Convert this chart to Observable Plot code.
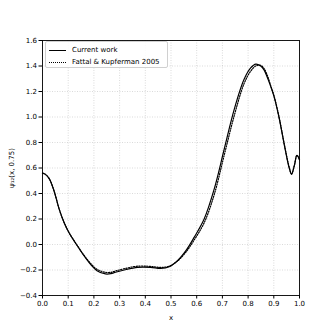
<!DOCTYPE html>
<html>
<head>
<meta charset="utf-8">
<script src="https://cdn.jsdelivr.net/npm/d3@7"></script>
<script src="https://cdn.jsdelivr.net/npm/@observablehq/plot@0.6"></script>
<style>
  html, body { margin: 0; padding: 0; background: #fff; }
  #wrap { position: relative; width: 332px; height: 332px; font-family: "DejaVu Sans", sans-serif; }
  #legend { position: absolute; left: 45px; top: 41px; width: 123px; height: 27px; box-sizing: border-box;
            border: 1px solid #d0d0d0; border-radius: 2px; background: rgba(255,255,255,0.85); font-size: 7px; color: #000; }
  .row { position: absolute; left: 0; height: 10px; display: flex; align-items: center; }
  .swatch { width: 17px; margin-left: 3px; margin-right: 6px; height: 0; }
</style>
</head>
<body>
<div id="wrap">
  <div id="chart"></div>
  <div id="legend"></div>
</div>
<script>
const xs = [0, 0.01, 0.026, 0.045, 0.065, 0.084, 0.104, 0.136, 0.162, 0.188, 0.212, 0.245, 0.266, 0.284, 0.318, 0.37, 0.421, 0.46, 0.493, 0.525, 0.558, 0.59, 0.629, 0.668, 0.707, 0.746, 0.784, 0.81, 0.83, 0.849, 0.862, 0.875, 0.888, 0.901, 0.921, 0.94, 0.96, 0.969, 0.98, 0.99, 1.0];
const currentWork = [0.56, 0.552, 0.517, 0.42, 0.277, 0.173, 0.09, -0.012, -0.09, -0.158, -0.205, -0.231, -0.229, -0.218, -0.2, -0.179, -0.179, -0.187, -0.174, -0.127, -0.048, 0.056, 0.2, 0.434, 0.747, 1.06, 1.294, 1.385, 1.415, 1.40, 1.37, 1.31, 1.24, 1.16, 0.99, 0.79, 0.60, 0.55, 0.62, 0.70, 0.665];
const fattal = [0.56, 0.552, 0.517, 0.42, 0.276, 0.172, 0.09, -0.01, -0.086, -0.15, -0.195, -0.218, -0.218, -0.208, -0.19, -0.17, -0.172, -0.18, -0.17, -0.13, -0.06, 0.035, 0.17, 0.39, 0.70, 1.01, 1.26, 1.36, 1.40, 1.405, 1.38, 1.325, 1.245, 1.165, 0.995, 0.795, 0.605, 0.555, 0.62, 0.70, 0.665];
const seriesNames = ["Current work", "Fattal & Kupferman 2005"];
const xTicks = [0, 0.1, 0.2, 0.3, 0.4, 0.5, 0.6, 0.7, 0.8, 0.9, 1.0];
const yTicks = [-0.4, -0.2, 0, 0.2, 0.4, 0.6, 0.8, 1.0, 1.2, 1.4, 1.6];

const dashes = [null, "1.2,1.4"];
const data = [];
xs.forEach((x, i) => {
  data.push({x, y: currentWork[i], s: seriesNames[0]});
  data.push({x, y: fattal[i], s: seriesNames[1]});
});

const plot = Plot.plot({
  width: 332, height: 332,
  marginLeft: 42, marginRight: 33, marginTop: 40, marginBottom: 37,
  style: {fontFamily: "DejaVu Sans, sans-serif", fontSize: "7px", color: "#000", background: "#fff"},
  x: {domain: [0, 1]},
  y: {domain: [-0.4, 1.6]},
  marks: [
    Plot.gridX(xTicks, {stroke: "#b0b0b0", strokeOpacity: 0.8, strokeDasharray: "1,1.5", strokeWidth: 0.6}),
    Plot.gridY(yTicks, {stroke: "#b0b0b0", strokeOpacity: 0.8, strokeDasharray: "1,1.5", strokeWidth: 0.6}),
    Plot.line(data.filter(d => d.s === seriesNames[1]), {x: "x", y: "y", stroke: "#000", strokeWidth: 1.2, strokeDasharray: dashes[1], curve: "catmull-rom"}),
    Plot.line(data.filter(d => d.s === seriesNames[0]), {x: "x", y: "y", stroke: "#000", strokeWidth: 1.2, curve: "catmull-rom"}),
    Plot.frame({stroke: "#000", strokeWidth: 0.9}),
    Plot.axisX(xTicks, {tickFormat: d3.format(".1f"), tickSize: 3.5, tickPadding: 2, label: "x", labelAnchor: "center", labelArrow: "none", labelOffset: 24}),
    Plot.axisY(yTicks, {tickFormat: d3.format(".1f"), tickSize: 3.5, tickPadding: 2, label: "ψ₁₂(x, 0.75)", labelAnchor: "center", labelArrow: "none", labelOffset: 33})
  ]
});
document.getElementById("chart").appendChild(plot);

const legend = document.getElementById("legend");
seriesNames.forEach((name, i) => {
  const row = document.createElement("div");
  row.className = "row";
  row.style.top = (3 + i * 12) + "px";
  const sw = document.createElement("div");
  sw.className = "swatch";
  sw.style.borderTop = i === 0 ? "1.3px solid #000" : "1.3px dotted #000";
  row.appendChild(sw);
  const t = document.createElement("span");
  t.textContent = name;
  row.appendChild(t);
  legend.appendChild(row);
});
</script>
</body>
</html>
